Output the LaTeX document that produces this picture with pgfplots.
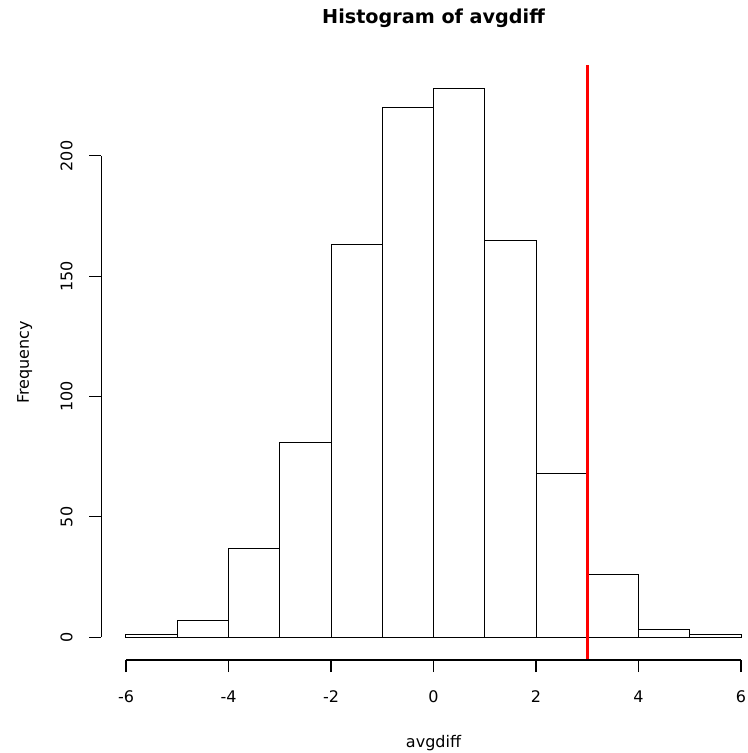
\documentclass[border=0pt]{standalone}
\usepackage{pgfplots}
\pgfplotsset{compat=1.18}
\usepackage{fontspec}
\setmainfont{DejaVu Sans}
\usetikzlibrary{calc}

% bin counts of avgdiff, unit-width bins from -6 to 6
\pgfplotstableread{
left count
-6 1
-5 7
-4 37
-3 81
-2 163
-1 220
0 228
1 165
2 68
3 26
4 3
5 1
6 1
}\avgdiff

\begin{document}
\begin{tikzpicture}
\begin{axis}[
  name=ax,
  scale only axis,
  width=484.2pt, height=446.25pt,
  xmin=-6.48, xmax=6.117,
  ymin=-9.5, ymax=237.8,
  axis lines*=left,
  axis line style={draw=none},
  tick align=outside,
  major tick length=9pt,
  tick style={black, line width=0.8pt},
  xtick={-6,-4,...,6}, ytick={0,50,...,200},
  xticklabels={}, yticklabels={},
  clip=false,
]
\addplot[ybar interval, draw=black, fill=white, line width=0.75pt]
  table[x=left, y=count] {\avgdiff};
% observed value
\addplot[red, line width=2pt] coordinates {(3,-9.5) (3,237.8)};

% R-style axis spines
\draw[black, line width=0.8pt] (axis cs:-6,-9.5) -- (axis cs:6,-9.5);
\draw[black, line width=0.8pt] (axis cs:-6.48,0) -- (axis cs:-6.48,200);

\pgfplotsinvokeforeach{-6,-4,-2,0,2,4,6}{
  \node[anchor=base, inner sep=0pt, font=\fontsize{12}{14}\selectfont]
    at ($(axis cs:#1,-9.5)+(0pt,-31.5pt)$) {#1};
}
\pgfplotsinvokeforeach{0,50,100,150,200}{
  \node[anchor=base, rotate=90, inner sep=0pt, font=\fontsize{12}{14}\selectfont]
    at ($(axis cs:-6.48,#1)+(-21.75pt,0pt)$) {#1};
}
\node[anchor=base, rotate=90, inner sep=0pt, font=\fontsize{12}{14}\selectfont]
  at ($(axis cs:-6.48,114.15)+(-54.3pt,0pt)$) {Frequency};
\node[anchor=base, inner sep=0pt, font=\fontsize{12}{14}\selectfont]
  at ($(axis cs:0,-9.5)+(0pt,-65.25pt)$) {avgdiff};
\node[anchor=base, inner sep=0pt, font=\fontsize{14.4}{17}\selectfont\bfseries]
  at ($(axis cs:0,237.8)+(0pt,30.75pt)$) {Histogram of avgdiff};
\end{axis}
\pgfresetboundingbox
\path[use as bounding box] ($(ax.south west)+(-76.05pt,-69.75pt)$)
  rectangle ($(ax.north east)+(0pt,48.75pt)$);
\end{tikzpicture}
\end{document}
